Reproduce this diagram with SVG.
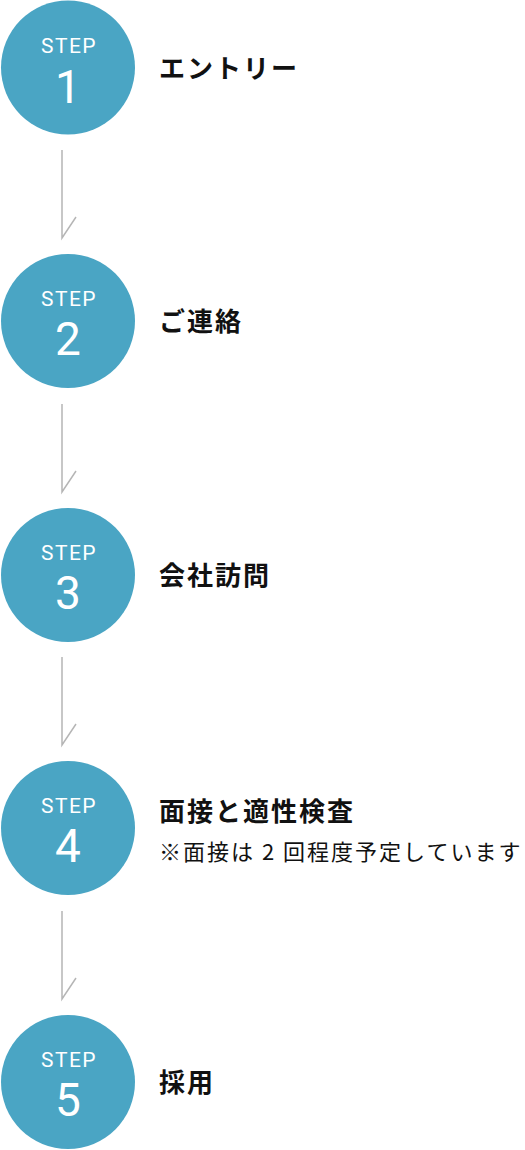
<svg xmlns="http://www.w3.org/2000/svg" width="525" height="1150" viewBox="0 0 525 1150">
<style>
.c{fill:#4aa5c4}
.st{font-family:Roboto,"Liberation Sans",sans-serif;font-size:21px;letter-spacing:1.5px;fill:#fff;text-anchor:middle}
.num{font-family:Roboto,"Liberation Sans",sans-serif;font-size:46px;fill:#fff;text-anchor:middle}
.t{font-family:"Noto Sans CJK JP","Noto Sans",sans-serif;font-weight:700;font-size:26px;letter-spacing:2px;fill:#111}
.s{font-family:"Noto Sans CJK JP","Noto Sans",sans-serif;font-size:22px;letter-spacing:2px;fill:#111}
.ln{fill:none;stroke:#b5b5b5;stroke-width:1.5}
</style>
<g id="connectors">
<path class="ln" d="M62 150V238L76 217"/>
<path class="ln" d="M62 404V492L76 471"/>
<path class="ln" d="M62 657V745L76 724"/>
<path class="ln" d="M62 911V999L76 978"/>
</g>
<g id="step1">
<circle class="c" cx="68" cy="67.5" r="67"/>
<text class="st" x="69" y="52.5">STEP</text>
<text class="num" x="68" y="103">1</text>
<text class="t" x="159" y="78">エントリー</text>
</g>
<g id="step2">
<circle class="c" cx="68" cy="321" r="67"/>
<text class="st" x="69" y="306">STEP</text>
<text class="num" x="68" y="355">2</text>
<text class="t" x="159" y="331">ご連絡</text>
</g>
<g id="step3">
<circle class="c" cx="68" cy="575" r="67"/>
<text class="st" x="69" y="560">STEP</text>
<text class="num" x="68" y="609">3</text>
<text class="t" x="159" y="585">会社訪問</text>
</g>
<g id="step4">
<circle class="c" cx="68" cy="828" r="67"/>
<text class="st" x="69" y="813">STEP</text>
<text class="num" x="68" y="862">4</text>
<text class="t" x="159" y="821">面接と適性検査</text>
<text class="s" x="159" y="860">※面接は 2 回程度予定しています</text>
</g>
<g id="step5">
<circle class="c" cx="68" cy="1082" r="67"/>
<text class="st" x="69" y="1067">STEP</text>
<text class="num" x="68" y="1116">5</text>
<text class="t" x="159" y="1092">採用</text>
</g>
</svg>
